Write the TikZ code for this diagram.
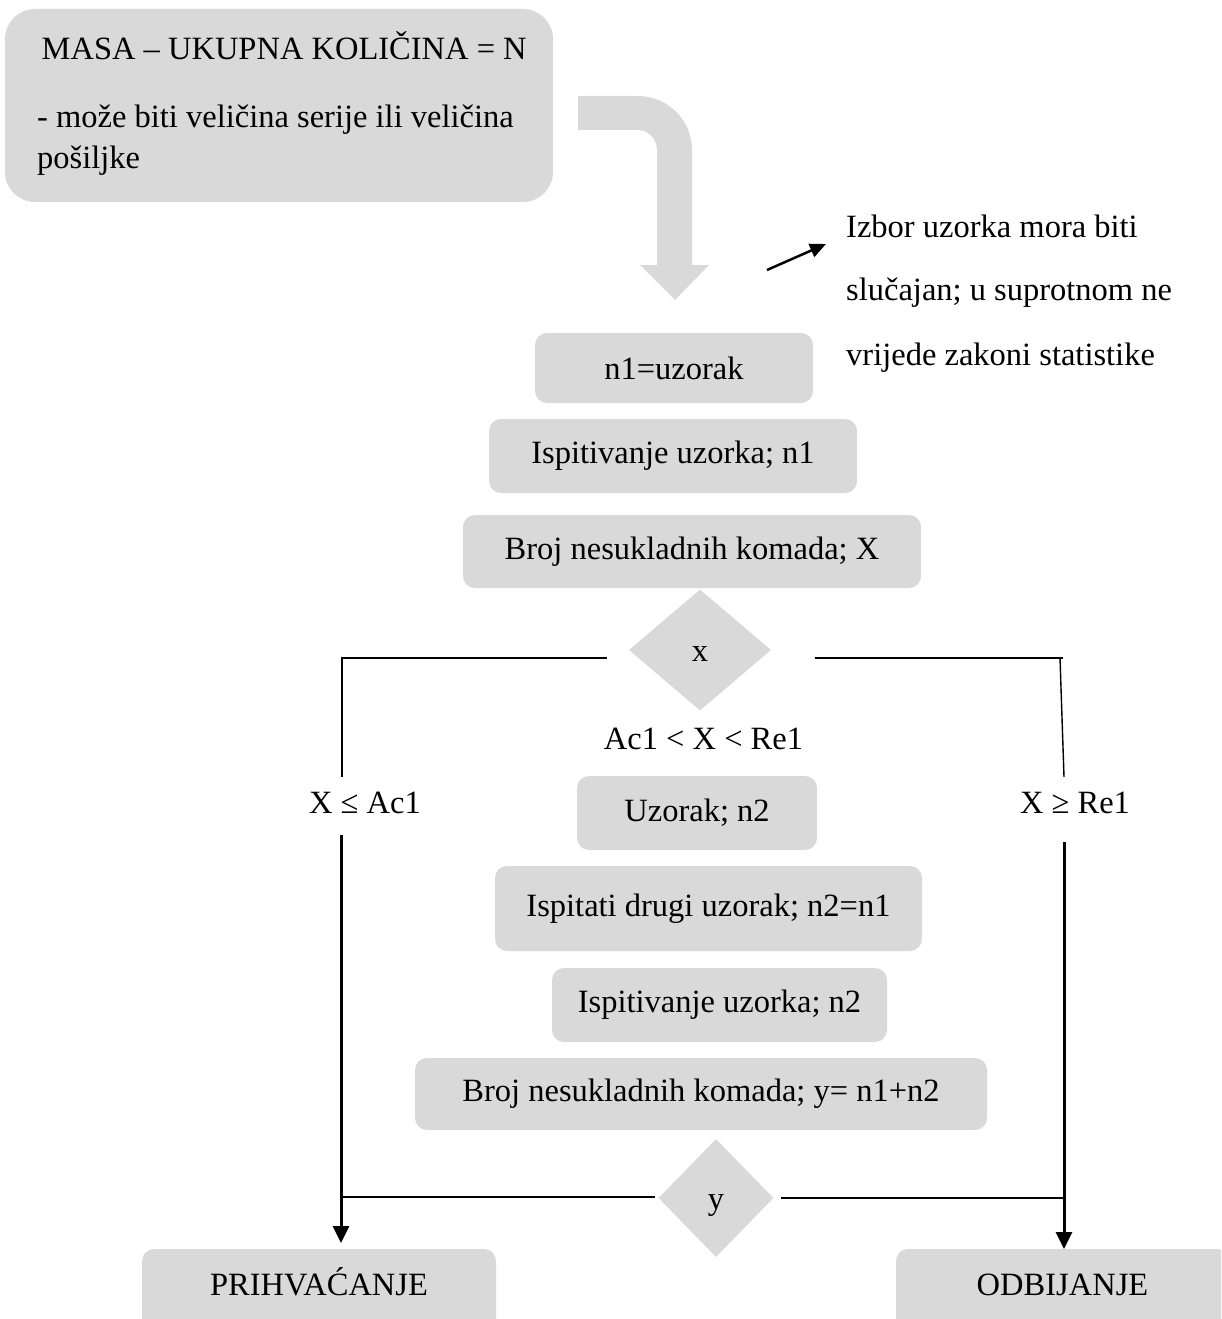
\documentclass[tikz,border=0pt]{standalone}
\usepackage{fontspec}
\setmainfont{Liberation Serif}
\usetikzlibrary{shapes.geometric,arrows.meta}
\definecolor{boxgray}{RGB}{217,217,217}
\begin{document}
\begin{tikzpicture}[x=1pt,y=-1pt,
  txt/.style={font=\fontsize{32.5}{39}\selectfont, inner sep=0pt, text=black},
  pbox/.style={txt, rounded corners=12pt, fill=boxgray},
  dia/.style={txt, diamond, fill=boxgray, text height=22pt, text depth=0pt},
  thinline/.style={line width=1.4pt, black},
  thickarrow/.style={line width=3pt, black, -{Triangle[width=16pt,length=17pt]}},
  smallarrow/.style={line width=2.5pt, black, -{Triangle[width=14pt,length=16pt]}}]
\useasboundingbox (0,0) rectangle (1221,1319);

% top box
\node[pbox, rounded corners=30pt, minimum width=548pt, minimum height=193pt] (masa) at (279,105.5) {};
\node[txt, anchor=base west] (t1) at (41.5,60) {MASA – UKUPNA KOLIČINA = N};
\node[txt, anchor=base west] (t2) at (37,128) {- može biti veličina serije ili veličina};
\node[txt, anchor=base west] (t3) at (37,168) {pošiljke};

% bent block arrow
\fill[boxgray] (578,96) -- (638,96) .. controls (667.8,96) and (692,120.2) .. (692,150)
  -- (692,265) -- (709,265) -- (675,300) -- (640,265) -- (657,265) -- (657,150)
  .. controls (657,139) and (648.5,130) .. (638,130) -- (578,130) -- cycle;

% note
\coordinate (na) at (767,270);
\coordinate (nb) at (826,244);
\draw[smallarrow] (na) -- (nb);
\node[txt, anchor=base west] (r1) at (846,237) {Izbor uzorka mora biti};
\node[txt, anchor=base west] (r2) at (846,300) {slučajan; u suprotnom ne};
\node[txt, anchor=base west] (r3) at (846,365) {vrijede zakoni statistike};

% process boxes
\node[pbox, minimum width=278pt, minimum height=70pt] (n1) at (674,368) {n1=uzorak};
\node[pbox, minimum width=368pt, minimum height=74pt] (isp1) at (673,456) {Ispitivanje uzorka; n1};
\node[pbox, minimum width=458pt, minimum height=73pt] (broj1) at (692,551.5) {Broj nesukladnih komada; X};
\node[dia, minimum width=142pt, minimum height=121pt] (dx) at (700,650) {x};
\node[txt, anchor=base] (lmid) at (703.5,749) {Ac1 < X < Re1};
\node[pbox, minimum width=240pt, minimum height=74pt] (uz2) at (697,813) {Uzorak; n2};
\node[pbox, minimum width=427pt, minimum height=85pt] (isd) at (708.5,908.5) {Ispitati drugi uzorak; n2=n1};
\node[pbox, minimum width=335pt, minimum height=74pt] (isp2) at (719.5,1005) {Ispitivanje uzorka; n2};
\node[pbox, minimum width=572pt, minimum height=72pt] (broj2) at (701,1094) {Broj nesukladnih komada; y= n1+n2};
\node[dia, minimum width=115pt, minimum height=118pt] (dy) at (716,1198) {y};

% side labels
\node[txt, anchor=base] (lac) at (365,813) {X ≤ Ac1};
\node[txt, anchor=base] (lre) at (1075,813) {X ≥ Re1};

% end boxes
\begin{scope}
\clip (0,0) rectangle (1221,1319);
\node[pbox, anchor=base, text height=46pt, text depth=50pt, minimum width=354pt] (prih) at (319,1295) {PRIHVAĆANJE};
\node[pbox, anchor=base, text height=46pt, text depth=50pt, minimum width=333pt] (odb) at (1062.5,1295) {ODBIJANJE};
\end{scope}

% connectors from x decision
\coordinate (xl0) at (607,658);
\coordinate (xl1) at (342,658);
\coordinate (xl2) at (342,777);
\draw[thinline] (xl0) -- (xl1) -- (xl2);
\coordinate (xr0) at (815,658);
\coordinate (xr1) at (1063,658);
\coordinate (xr2) at (1060,658);
\coordinate (xr3) at (1064,777);
\draw[thinline] (xr0) -- (xr1);
\draw[thinline] (xr2) -- (xr3);

% thick arrows to results
\coordinate (al0) at (341,835);
\coordinate (al1) at (341,1243);
\draw[thickarrow] (al0) -- (al1);
\coordinate (ar0) at (1064,842);
\coordinate (ar1) at (1064,1249);
\draw[thickarrow] (ar0) -- (ar1);

% connectors from y decision
\coordinate (yl) at (342,1197);
\coordinate (yr) at (1063,1198);
\draw[thinline] ([xshift=-3pt,yshift=1pt]dy.west) -- (yl);
\draw[thinline] ([xshift=7pt]dy.east) -- (yr);
\end{tikzpicture}
\end{document}
